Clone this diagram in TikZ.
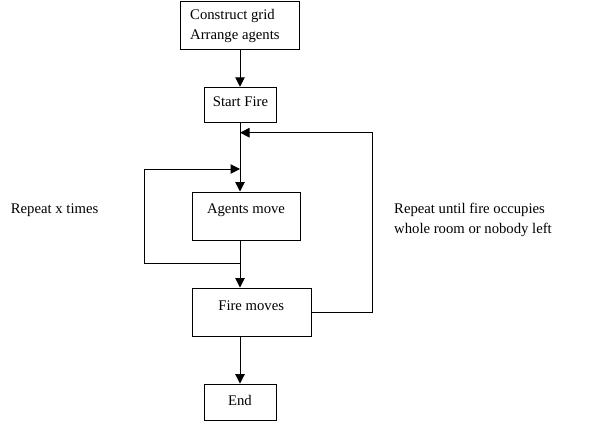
\documentclass[tikz,border=0pt]{standalone}
\usepackage{fontspec}
\setmainfont{Liberation Serif}
\usetikzlibrary{arrows.meta}
\begin{document}
\begin{tikzpicture}[x=1pt,y=-1pt,
  box/.style={draw,line width=1pt,inner sep=0pt},
  lbl/.style={anchor=base west,inner sep=0pt,font=\fontsize{14.7}{20}\selectfont},
  conn/.style={line width=1pt},
  arr/.style={conn,-{Triangle[length=9.5pt,width=9.5pt]}}]
\useasboundingbox (0,0) rectangle (602,423);
% boxes
\node[box,minimum width=119pt,minimum height=48pt] (b1) at (240,25) {};
\node[lbl] (t1) at (190,19) {Construct grid};
\node[lbl] (t1b) at (190,39) {Arrange agents};
\node[box,minimum width=72.5pt,minimum height=35.5pt] (sf) at (240.3,105) {};
\node[lbl,anchor=base] (sft) at (240.5,106) {Start Fire};
\node[box,minimum width=108pt,minimum height=48pt] (am) at (246.7,216) {};
\node[lbl,anchor=base] (amt) at (246,213) {Agents move};
\node[box,minimum width=119.3pt,minimum height=48pt] (fm) at (252.3,312) {};
\node[lbl,anchor=base] (fmt) at (251.2,310) {Fire moves};
\node[box,minimum width=72.5pt,minimum height=36.5pt] (en) at (240.3,402.3) {};
\node[lbl,anchor=base] (ent) at (240,405.7) {End};
% labels
\node[lbl] (l1) at (10.7,213) {Repeat x times};
\node[lbl] (l2) at (394,213) {Repeat until fire occupies};
\node[lbl] (l3) at (394,233) {whole room or nobody left};
% coordinates
\coordinate (c1) at (240,49);
\coordinate (a) at (240,123);
\coordinate (j1) at (240,132.7);
\coordinate (j2) at (240,169);
\coordinate (amb) at (240,240);
\coordinate (j3) at (240,263.7);
\coordinate (fmb) at (240,336);
\coordinate (lt) at (144.5,169);
\coordinate (lb) at (144.5,263.7);
\coordinate (rt) at (372,132.7);
\coordinate (rb) at (372,312);
% connectors
\draw[arr] (c1) -- (sf.north -| c1);
\draw[conn] (a) -- (j2);
\draw[arr] (j2) -- (am.north -| c1);
\draw[conn] (amb) -- (j3);
\draw[arr] (j3) -- (fm.north -| c1);
\draw[arr] (fmb) -- (en.north -| c1);
\draw[arr] (j3) -- (lb) -- (lt) -- (j2);
\draw[arr] (fm.east) -- (rb) -- (rt) -- (j1);
\end{tikzpicture}
\end{document}
